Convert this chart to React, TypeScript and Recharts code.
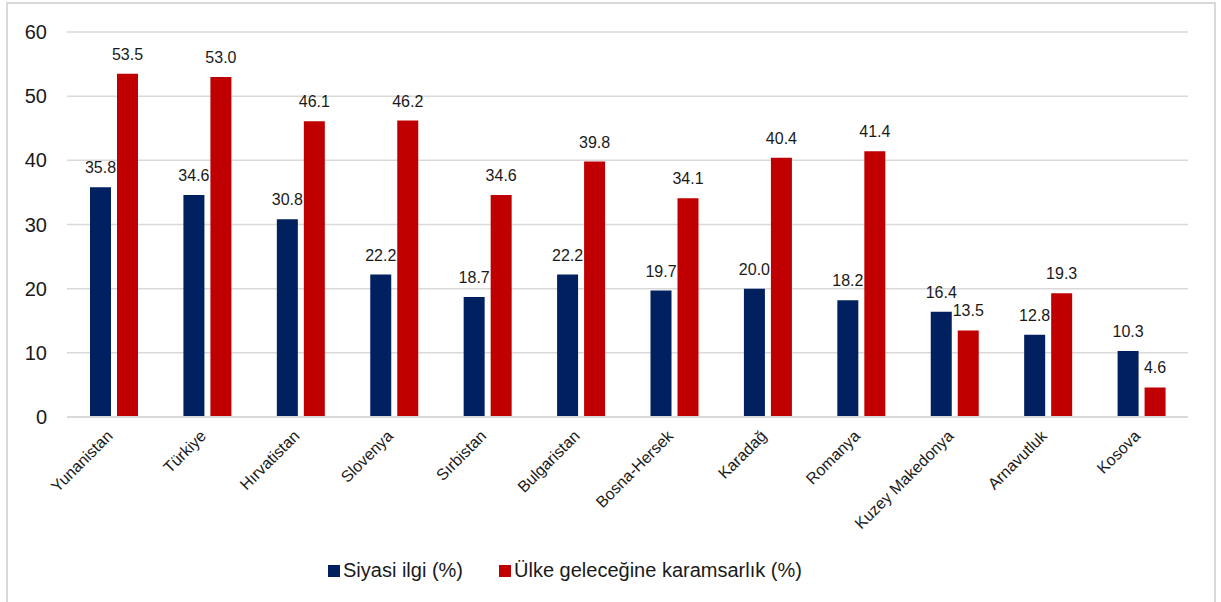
import React from 'react';
import { BarChart, Bar, XAxis, YAxis, CartesianGrid, Legend, LabelList } from 'recharts';

const countries = [
    'Yunanistan', 'Türkiye', 'Hırvatistan', 'Slovenya', 'Sırbistan', 'Bulgaristan',
    'Bosna-Hersek', 'Karadağ', 'Romanya', 'Kuzey Makedonya', 'Arnavutluk', 'Kosova',
];
const siyasiIlgi = [35.8, 34.6, 30.8, 22.2, 18.7, 22.2, 19.7, 20.0, 18.2, 16.4, 12.8, 10.3];
const karamsarlik = [53.5, 53.0, 46.1, 46.2, 34.6, 39.8, 34.1, 40.4, 41.4, 13.5, 19.3, 4.6];
const yTicks = [0, 10, 20, 30, 40, 50, 60];

const seriesNames = ['Siyasi ilgi (%)', 'Ülke geleceğine karamsarlık (%)'];
const BLUE = '#002060';
const RED = '#C00000';
const FONT = '"Liberation Sans", Arial, sans-serif';

const data = countries.map((name, i) => ({
    name,
    siyasi: siyasiIlgi[i],
    karamsar: karamsarlik[i],
}));

const AngledTick = (props: any) => {
    const { x, y, payload } = props;
    const tx = x;
    const ty = y + 20;
    return (
        <text
            x={tx}
            y={ty}
            transform={`rotate(-45, ${tx}, ${ty})`}
            textAnchor="end"
            fontSize={16}
            fontFamily={FONT}
            fill="#1a1a1a"
        >
            {payload.value}
        </text>
    );
};

const LegendBox = () => (
    <div style={{ display: 'flex', alignItems: 'center', fontFamily: FONT, fontSize: 20, color: '#1a1a1a' }}>
        {seriesNames.map((n, i) => (
            <div key={n} style={{ display: 'flex', alignItems: 'center', marginRight: i === 0 ? 36 : 0 }}>
                <span style={{ display: 'inline-block', width: 12, height: 12, background: i === 0 ? BLUE : RED, marginRight: 3 }} />
                <span style={{ whiteSpace: 'nowrap' }}>{n}</span>
            </div>
        ))}
    </div>
);

const fmt = (v: any) => Number(v).toFixed(1);

export default function App() {
    return (
        <div style={{ position: 'absolute', left: 0, top: 0, width: 1221, height: 602, overflow: 'hidden', background: '#fff' }}>
            <div
                style={{
                    position: 'absolute', left: 6, top: 2, width: 1210, height: 620,
                    border: '2px solid #d9d9d9', boxSizing: 'border-box',
                }}
            />
            <div style={{ position: 'absolute', left: 0, top: 0 }}>
                <BarChart
                    width={1221}
                    height={602}
                    data={data}
                    margin={{ top: 32, right: 33, left: 0, bottom: 0 }}
                    barSize={21}
                    barGap={6}
                >
                    <CartesianGrid vertical={false} stroke="#d9d9d9" strokeWidth={1.5} />
                    <XAxis
                        dataKey="name"
                        height={185}
                        interval={0}
                        tick={<AngledTick />}
                        tickLine={false}
                        tickSize={0}
                        tickMargin={0}
                        axisLine={{ stroke: '#d9d9d9', strokeWidth: 2 }}
                    />
                    <YAxis
                        width={67}
                        domain={[0, 60]}
                        ticks={yTicks}
                        tickLine={false}
                        axisLine={false}
                        tickSize={0}
                        tickMargin={20}
                        tick={{ fontSize: 20, fontFamily: FONT, fill: '#1a1a1a' }}
                    />
                    <Legend
                        layout="horizontal"
                        verticalAlign="middle"
                        align="center"
                        content={<LegendBox />}
                        wrapperStyle={{ top: 559, left: 328, width: 'auto', height: 'auto' }}
                    />
                    <Bar dataKey="siyasi" name={seriesNames[0]} fill={BLUE} isAnimationActive={false}>
                        <LabelList dataKey="siyasi" position="top" offset={14} formatter={fmt}
                            style={{ fontSize: 16, fontFamily: FONT, fill: '#1a1a1a' }} />
                    </Bar>
                    <Bar dataKey="karamsar" name={seriesNames[1]} fill={RED} isAnimationActive={false}>
                        <LabelList dataKey="karamsar" position="top" offset={14} formatter={fmt}
                            style={{ fontSize: 16, fontFamily: FONT, fill: '#1a1a1a' }} />
                    </Bar>
                </BarChart>
            </div>
        </div>
    );
}
